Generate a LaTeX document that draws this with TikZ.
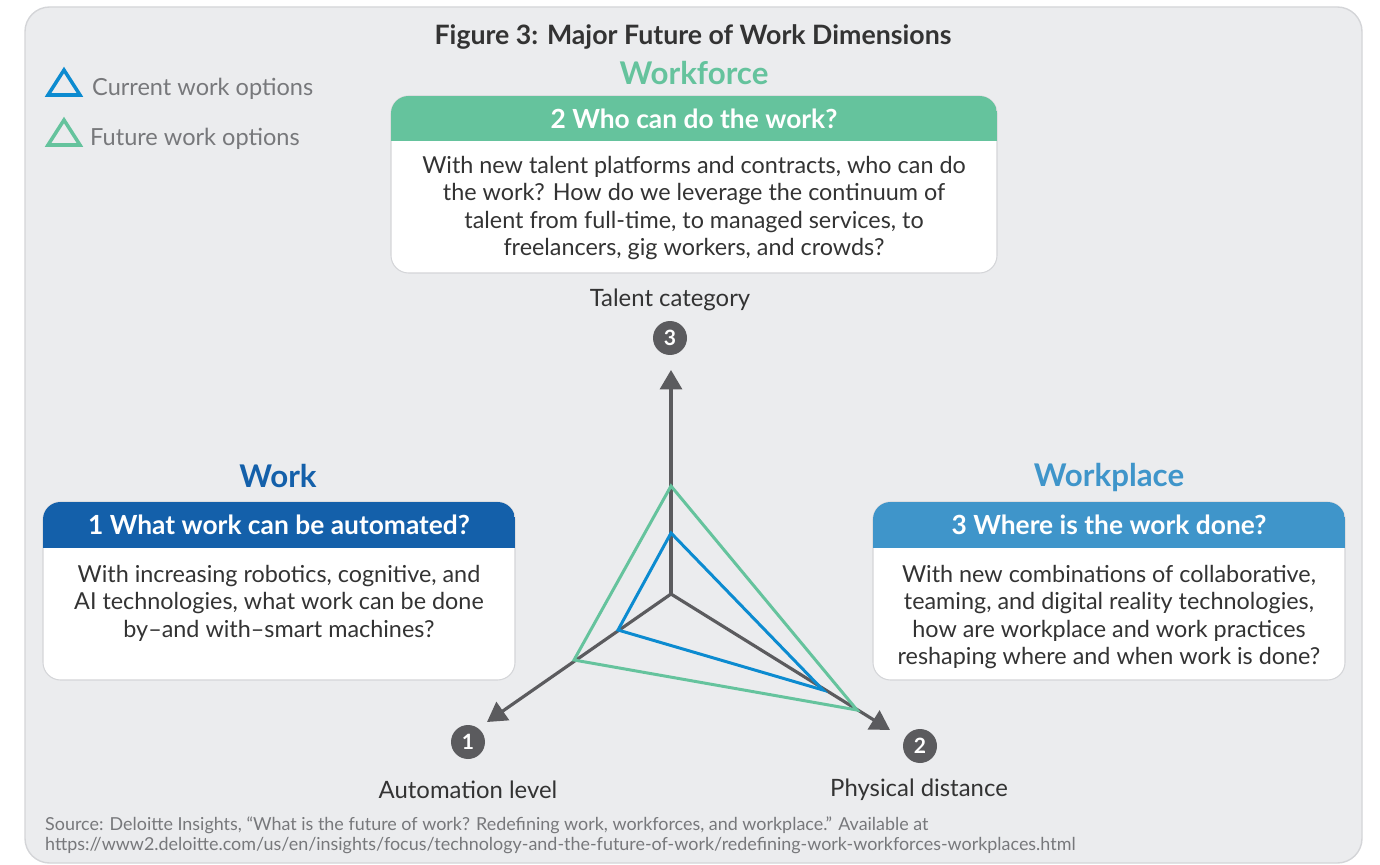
\documentclass[tikz,border=0pt]{standalone}
\usepackage{fontspec}
\setmainfont{Lato}
\usetikzlibrary{arrows.meta}
\definecolor{bggray}{HTML}{EBECEE}
\definecolor{framegray}{HTML}{D4D5D8}
\definecolor{axisgray}{HTML}{5B5B5E}
\definecolor{txtdark}{HTML}{333333}
\definecolor{txtgray}{HTML}{77787B}
\definecolor{wfgreen}{HTML}{65C39D}
\definecolor{wkblue}{HTML}{1460AA}
\definecolor{wpblue}{HTML}{3F95CA}
\definecolor{curblue}{HTML}{0C8BD0}
\tikzset{
  boxline/.style={draw=framegray, line width=0.6pt, fill=white, rounded corners=10},
  hdr/.style={text=white, font=\fontsize{15}{17}\selectfont\bfseries},
  body/.style={text=txtdark, align=center, font=\fontsize{13.3}{15.6}\selectfont},
  dimtitle/.style={font=\fontsize{17.8}{20}\selectfont\bfseries},
  num/.style={circle, fill=axisgray, text=white, minimum size=0.68cm, inner sep=0pt, font=\fontsize{12}{13}\selectfont\bfseries},
  axislbl/.style={text=txtdark, font=\fontsize{13.6}{15}\selectfont},
  axis/.style={axisgray, line width=1.8pt, -{Triangle[length=11pt, width=12.5pt]}},
  legtxt/.style={anchor=west, text=txtgray, font=\fontsize{13.4}{15}\selectfont},
  srctxt/.style={anchor=west, text=txtgray, font=\fontsize{10.2}{12}\selectfont}
}
\begin{document}
\begin{tikzpicture}[x=0.02cm, y=-0.02cm]
    \useasboundingbox (0,0) rectangle (1380,865);
    \fill[white] (0,0) rectangle (1380,865);
    \draw[draw=framegray, fill=bggray, rounded corners=14, line width=0.8pt] (25,7) rectangle (1362,863);

    % title and legend
    \node[text=txtdark, font=\fontsize{15.2}{17}\selectfont\bfseries] (title) at (693,37) {Figure 3: Major Future of Work Dimensions};
    \draw[curblue, line width=2pt, line join=miter] (64,70) -- (80,95) -- (48,95) -- cycle;
    \draw[wfgreen, line width=2pt, line join=miter] (64,120) -- (80,145) -- (48,145) -- cycle;
    \node[legtxt] (leg1) at (86,89) {Current work options};
    \node[legtxt] (leg2) at (84,139) {Future work options};

    % workforce box
    \node[dimtitle, text=wfgreen] (wf) at (694,73) {Workforce};
    \draw[boxline] (391,96) rectangle (997,273);
    \begin{scope}
        \clip[rounded corners=10] (391,96) rectangle (997,273);
        \fill[wfgreen] (391,96) rectangle (997,141);
    \end{scope}
    \node[hdr] (q2) at (694,119) {2 Who can do the work?};
    \node[body] (t2) at (694,208) {With new talent platforms and contracts, who can do\\the work? How do we leverage the continuum of\\talent from full-time, to managed services, to\\freelancers, gig workers, and crowds?};

    % work box
    \node[dimtitle, text=wkblue] (wk) at (278,476) {Work};
    \draw[boxline] (43,502) rectangle (515,680);
    \begin{scope}
        \clip[rounded corners=10] (43,502) rectangle (515,680);
        \fill[wkblue] (43,502) rectangle (515,548);
    \end{scope}
    \node[hdr] (q1) at (279,525) {1 What work can be automated?};
    \node[body] (t1) at (279,603) {With increasing robotics, cognitive, and\\AI technologies, what work can be done\\by--and with--smart machines?};

    % workplace box
    \node[dimtitle, text=wpblue] (wp) at (1109,477) {Workplace};
    \draw[boxline] (873,502) rectangle (1345,680);
    \begin{scope}
        \clip[rounded corners=10] (873,502) rectangle (1345,680);
        \fill[wpblue] (873,502) rectangle (1345,548);
    \end{scope}
    \node[hdr] (q3) at (1109,525) {3 Where is the work done?};
    \node[body] (t3) at (1109,617) {With new combinations of collaborative,\\teaming, and digital reality technologies,\\how are workplace and work practices\\reshaping where and when work is done?};

    % axes
    \coordinate (c) at (671,594);
    \coordinate (tipT) at (671,370);
    \coordinate (tipL) at (487,722);
    \coordinate (tipR) at (890,730);
    \draw[axis] (c) -- (tipT);
    \draw[axis] (c) -- (tipL);
    \draw[axis] (c) -- (tipR);

    % future and current options
    \draw[wfgreen, line width=1.7pt, line join=miter] (671,486) -- (857,710) -- (574,660) -- cycle;
    \draw[curblue, line width=1.7pt, line join=miter] (671,533) -- (823,690) -- (618,630) -- cycle;

    % axis labels
    \node[num] (n3) at (670,338) {3};
    \node[num] (n1) at (468,742) {1};
    \node[num] (n2) at (920,746) {2};
    \node[axislbl] (a3) at (670,300) {Talent category};
    \node[axislbl] (a1) at (468,790) {Automation level};
    \node[axislbl] (a2) at (919,790) {Physical distance};

    % source
    \node[srctxt] (src1) at (39,825) {Source: Deloitte Insights, “What is the future of work? Redefining work, workforces, and workplace.” Available at};
    \node[srctxt] (src2) at (39,846) {https://www2.deloitte.com/us/en/insights/focus/technology-and-the-future-of-work/redefining-work-workforces-workplaces.html};
\end{tikzpicture}
\end{document}
